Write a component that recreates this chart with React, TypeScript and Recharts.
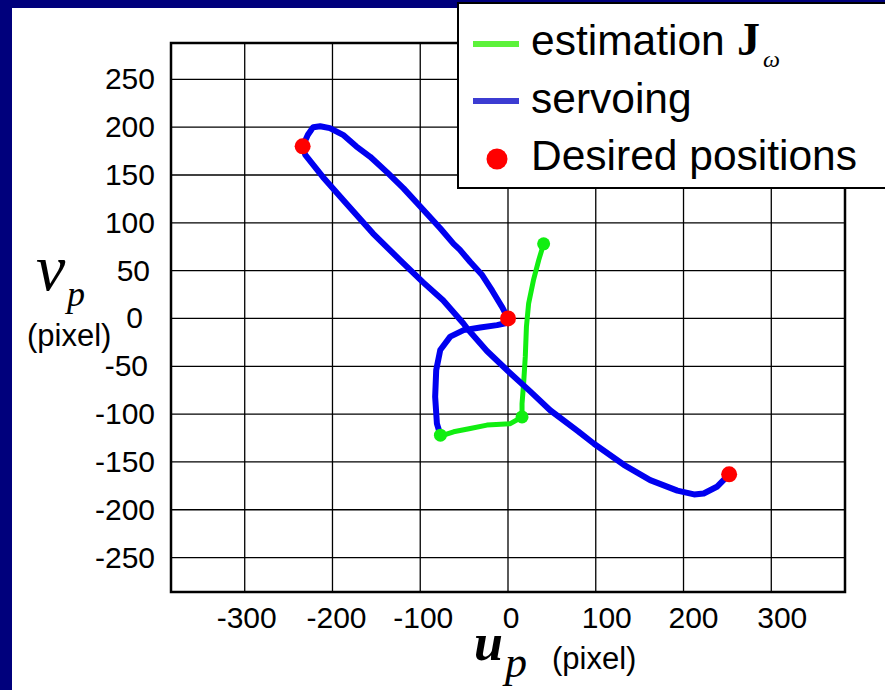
import React from 'react';
import { ComposedChart, Line, Scatter, XAxis, YAxis, CartesianGrid, ReferenceArea } from 'recharts';

// ---- data ----
const xTicks = [-300, -200, -100, 0, 100, 200, 300];
const yTicks = [250, 200, 150, 100, 50, 0, -50, -100, -150, -200, -250];

// estimation J_w path (green)
const estimationU = [40.6, 35, 29, 23.5, 21, 19.7, 17.8, 16, 16, 2.6, -24, -43, -62, -70, -77];
const estimationV = [78, 61, 40, 15.7, -8.8, -40, -68, -89, -103, -110, -111.5, -115, -118.5, -121, -122];

// endpoints of the estimation segments
const estimationEndU = [40.6, 16, -77];
const estimationEndV = [78, -103, -122];

// servoing path (blue)
const servoingU = [
  -77, -81, -83, -81.8, -77.2, -65.8, -50.6, -31.6, -12.5, -3, 0,
  -6.8, -18, -30, -43, -55, -62, -77, -100, -119, -138, -157, -173, -188, -203, -214, -222, -228, -234,
  -231, -211, -184, -154, -123, -97, -74, -51, -46, -24, 0, 25, 48, 80, 98, 132, 162, 193, 212, 223, 238, 252,
];
const servoingV = [
  -122, -110, -82, -54, -33, -19, -12.2, -9.4, -7, -5, 0,
  12, 29, 46, 59, 72, 78, 94, 117, 136, 153, 169, 180, 192, 199, 201, 200, 192, 180,
  171, 148, 120, 89, 61, 38, 19, -5, -11, -34, -55, -76, -96, -118, -131, -153, -169, -180, -184, -183, -176, -163,
];

// desired positions (red)
const desiredU = [-234, 0, 252];
const desiredV = [180, 0, -163];

const zip = (us: number[], vs: number[]) => us.map((u, i) => ({ u, v: vs[i] }));
const estimation = zip(estimationU, estimationV);
const estimationEnds = zip(estimationEndU, estimationEndV);
const servoing = zip(servoingU, servoingV);
const desired = zip(desiredU, desiredV);

// ---- styles ----
const SANS = '"Liberation Sans", Arial, sans-serif';
const SERIF = '"Liberation Serif", "Times New Roman", serif';
const GREEN = '#11ee11';
const BLUE = '#0000f0';
const RED = '#ff0000';

const xTickShift: Record<string, number> = { '-300': 2, '-200': 4, '-100': 3, '0': 3, '100': 11, '200': 10, '300': 11 };
const yTickShift: Record<string, number> = { '50': -5, '0': -12, '-50': -7 };

const XTick = (props: any) => {
  const { x, y, payload } = props;
  const dx = xTickShift[String(payload.value)] ?? 0;
  return (
    <text x={x + dx} y={y + 36} textAnchor="middle" fontFamily={SANS} fontSize={30} fill="#000">
      {payload.value}
    </text>
  );
};

const YTick = (props: any) => {
  const { x, y, payload } = props;
  const dx = yTickShift[String(payload.value)] ?? 0;
  return (
    <text x={x - 16 + dx} y={y + 10} textAnchor="end" fontFamily={SANS} fontSize={30} fill="#000">
      {payload.value}
    </text>
  );
};

const RedDot = (p: any) => <circle cx={p.cx} cy={p.cy} r={8} fill={RED} />;
const GreenDot = (p: any) => <circle cx={p.cx} cy={p.cy} r={6.5} fill={GREEN} />;

export default function App() {
  return (
    <div style={{ position: 'absolute', left: 0, top: 0, width: 885, height: 690, overflow: 'hidden', background: '#00007c' }}>
      <div style={{ position: 'absolute', left: 12, top: 8, right: 0, bottom: 0, background: '#ffffff' }} />
      <div style={{ position: 'absolute', left: 0, top: 0 }}>
        <ComposedChart width={885} height={690} margin={{ top: 43, right: 40, bottom: 0, left: 0 }}>
          <CartesianGrid stroke="#000" strokeWidth={1.3} strokeOpacity={1} />
          <XAxis
            type="number"
            dataKey="u"
            domain={[-384, 384]}
            ticks={xTicks}
            interval={0}
            allowDataOverflow
            height={98}
            axisLine={false}
            tickLine={false}
            tickSize={0}
            tickMargin={0}
            tick={<XTick />}
          />
          <YAxis
            type="number"
            dataKey="v"
            domain={[-286, 288]}
            ticks={yTicks}
            interval={0}
            allowDataOverflow
            width={171}
            axisLine={false}
            tickLine={false}
            tickSize={0}
            tickMargin={0}
            tick={<YTick />}
          />
          <ReferenceArea x1={-384} x2={384} y1={-286} y2={288} fill="none" fillOpacity={0} stroke="#000" strokeWidth={2.5} ifOverflow="visible" />
          <Line data={estimation} dataKey="v" type="linear" stroke={GREEN} strokeWidth={5} strokeLinejoin="round" strokeLinecap="round" dot={false} activeDot={false} isAnimationActive={false} />
          <Line data={servoing} dataKey="v" type="linear" stroke={BLUE} strokeWidth={6} strokeLinejoin="round" strokeLinecap="round" dot={false} activeDot={false} isAnimationActive={false} />
          <Scatter data={estimationEnds} dataKey="v" fill={GREEN} shape={GreenDot} isAnimationActive={false} />
          <Scatter data={desired} dataKey="v" fill={RED} shape={RedDot} isAnimationActive={false} />
        </ComposedChart>
      </div>
      {/* axis titles */}
      <svg width={885} height={690} style={{ position: 'absolute', left: 0, top: 0, pointerEvents: 'none' }}>
        <text x={36} y={290} fontFamily={SERIF} fontStyle="italic" fontSize={66} fill="#000">v</text>
        <text x={67} y={306} fontFamily={SERIF} fontStyle="italic" fontSize={36} fill="#000">p</text>
        <text x={27} y={346} fontFamily={SANS} fontSize={31} fill="#000">(pixel)</text>
        <text x={474} y={660} fontFamily={SERIF} fontStyle="italic" fontWeight="bold" fontSize={52} fill="#000">u</text>
        <text x={505} y={677} fontFamily={SERIF} fontStyle="italic" fontSize={44} fill="#000">p</text>
        <text x={552} y={669} fontFamily={SANS} fontSize={31} fill="#000">(pixel)</text>
      </svg>
      {/* legend */}
      <svg width={430} height={190} style={{ position: 'absolute', left: 457, top: 2 }}>
        <rect x={1} y={1} width={460} height={185} fill="#fff" stroke="#000" strokeWidth={2} />
        <line x1={16} x2={62} y1={42} y2={42} stroke="#5cf23a" strokeWidth={6} />
        <text x={74} y={53} fontFamily={SANS} fontSize={42.5} fill="#000">estimation</text>
        <text x={280} y={53} fontFamily={SERIF} fontWeight="bold" fontSize={46} fill="#000">J</text>
        <text x={306} y={65} fontFamily={SERIF} fontStyle="italic" fontSize={24} fill="#000">ω</text>
        <line x1={16} x2={62} y1={99} y2={99} stroke="#3c3cd2" strokeWidth={6} />
        <text x={74} y={110.5} fontFamily={SANS} fontSize={42.5} fill="#000">servoing</text>
        <circle cx={40} cy={157} r={10.5} fill={RED} />
        <text x={74} y={168} fontFamily={SANS} fontSize={42.5} fill="#000">Desired positions</text>
      </svg>
    </div>
  );
}
